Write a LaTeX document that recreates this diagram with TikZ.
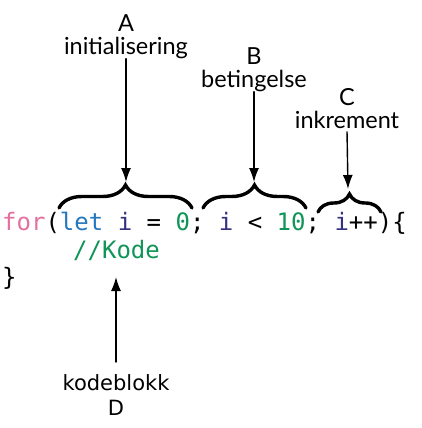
\documentclass[tikz,border=0pt]{standalone}
\usepackage{fontspec}
\setmainfont{Lato}
\newfontfamily\codefont{DejaVu Sans Mono}
\newfontfamily\labelfontD{DejaVu Sans}
\usetikzlibrary{arrows.meta,decorations.pathreplacing}
\definecolor{kwpink}{RGB}{228,112,160}
\definecolor{kwblue}{RGB}{38,120,190}
\definecolor{varnavy}{RGB}{52,50,128}
\definecolor{numgreen}{RGB}{16,148,88}
\tikzset{
  lbl/.style={align=center,font=\fontsize{23.5}{23}\selectfont,inner sep=0pt,text depth=0.25em},
  code/.style={anchor=base west,inner sep=0pt,font=\codefont\fontsize{24}{28}\selectfont},
  pil/.style={line width=1.4pt,-{Latex[length=14pt,width=10pt]}},
  krull/.style={decorate,decoration={brace,amplitude=#1},line width=3.4pt},
  krull/.default=23pt
}
\begin{document}
\begin{tikzpicture}[x=1pt,y=-1pt,line cap=round]
  \useasboundingbox (0,0) rectangle (421,428);

  % kode
  \node[code] (line1) at (2,230) {\textcolor{kwpink}{for}(\textcolor{kwblue}{let} \textcolor{varnavy}{i} = \textcolor{numgreen}{0}; \textcolor{varnavy}{i} < \textcolor{numgreen}{10}; \textcolor{varnavy}{i}++)\{};
  \node[code] (line2) at (73,258) {\textcolor{numgreen}{//Kode}};
  \node[code] (line3) at (2,285) {\}};

  % klammer
  \draw[krull] (59,208) -- (192,208);
  \draw[krull] (203,208) -- (306,208);
  \draw[krull=18pt] (318,212) -- (381,212);
  \coordinate (tA) at (126,182);
  \coordinate (tB) at (254,182);
  \coordinate (tC) at (348,189);
  \coordinate (tD) at (116,277);

  % etiketter
  \node[lbl,anchor=north] (labA) at (126,14) {A\\initialisering};
  \node[lbl,anchor=north] (labB) at (254,47) {B\\betingelse};
  \node[lbl,anchor=north] (labC) at (347,88) {C\\inkrement};
  \node[lbl,anchor=north,font=\labelfontD\fontsize{21}{25}\selectfont] (labD) at (116,374) {kodeblokk\\D};

  \draw[pil,shorten <=2pt] (labA.south) -- (tA);
  \draw[pil,shorten <=2pt] (labB.south) -- (tB);
  \draw[pil,shorten <=1pt] (labC.south) -- (tC);
  \draw[pil,shorten <=12pt] (labD.north) -- (tD);
\end{tikzpicture}
\end{document}
